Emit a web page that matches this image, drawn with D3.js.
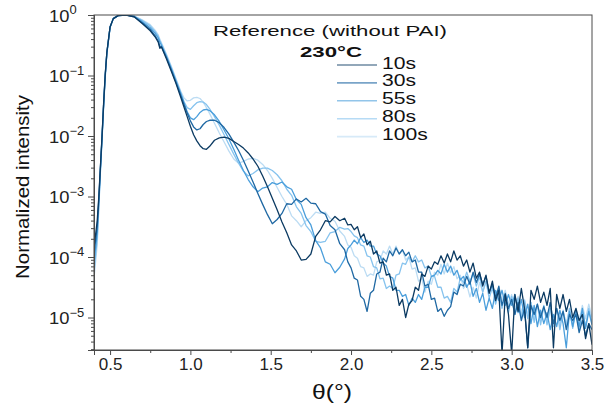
<!DOCTYPE html>
<html>
<head>
<meta charset="utf-8">
<script src="https://cdn.jsdelivr.net/npm/d3@7"></script>
<style>
  html, body { margin: 0; padding: 0; background: #fff; }
  svg { display: block; font-family: "Liberation Sans", Arial, sans-serif; }
</style>
</head>
<body>
<div id="chart"></div>
<script>
// theta grid (degrees), shared by all curves
const theta = [
  0.40,0.42,0.43,0.44,0.45,0.46,0.47,0.48,
  0.50,0.52,0.55,0.60,0.65,0.70,0.75,0.78,
  0.80,0.81,0.82,0.85,0.88,0.91,0.94,
  0.96,0.98,1.00,1.02,1.04,1.06,1.08,1.10,
  1.12,1.15,1.18,1.21,1.24,1.27,1.30,1.33,
  1.36,1.39,1.42,1.45,1.48,1.51,1.54,1.57,
  1.60,1.63,1.66,1.69,1.72,1.75,1.78,1.81,
  1.84,1.87,1.90,1.93,1.96,1.98,
  2.00,2.02,2.04,2.06,2.08,2.10,2.12,2.14,2.16,2.18,
  2.20,2.22,2.24,2.26,2.28,2.30,2.32,2.34,2.36,2.38,
  2.40,2.42,2.44,2.46,2.48,2.50,2.52,2.54,2.56,2.58,
  2.60,2.62,2.64,2.66,2.68,2.70,2.72,2.74,2.76,2.78,
  2.80,2.82,2.84,2.86,2.88,2.90,2.92,2.94,2.96,2.98,
  3.00,3.02,3.04,3.06,3.08,3.10,3.12,3.14,3.16,3.18,
  3.20,3.22,3.24,3.26,3.28,3.30,3.32,3.34,3.36,3.38,
  3.40,3.42,3.44,3.46,3.48,3.50
];

// log10 of normalized intensity, one array per annealing time
const v10s = [
  -3.85,-3.40,-3.00,-2.50,-2.00,-1.45,-0.98,-0.62,
  -0.20,-0.06,-0.01,0.00,-0.03,-0.14,-0.26,-0.36,
  -0.45,-0.55,-0.53,-0.72,-0.92,-1.13,-1.36,
  -1.52,-1.68,-1.84,-1.98,-2.08,-2.16,-2.21,-2.22,
  -2.17,-2.07,-2.03,-2.02,-2.04,-2.09,-2.14,-2.20,
  -2.28,-2.38,-2.50,-2.66,-2.84,-3.03,-3.22,-3.42,
  -3.60,-3.80,-3.90,-4.05,-4.04,-3.95,-3.66,-3.55,
  -3.40,-3.42,-3.33,-3.40,-3.36,-3.47,
  -3.46,-3.55,-3.50,-3.68,-3.62,-3.80,-3.74,-3.95,-3.90,-4.10,
  -4.08,-4.30,-4.28,-4.55,-4.50,-4.80,-4.70,-5.00,-4.78,-4.72,
  -4.50,-4.55,-4.28,-4.32,-4.15,-4.20,-4.08,-4.12,-3.98,-4.10,
  -3.95,-4.08,-3.90,-4.05,-3.98,-4.15,-4.05,-4.25,-4.10,-4.35,
  -4.25,-4.48,-4.30,-4.60,-4.40,-4.72,-4.55,-5.60,-4.62,-4.95,
  -5.60,-4.62,-4.90,-4.52,-4.85,-5.50,-4.55,-4.70,-4.48,-4.75,
  -4.58,-4.80,-4.52,-5.50,-4.62,-4.85,-4.62,-4.90,-4.70,-5.00,
  -4.85,-5.05,-4.95,-5.35,-5.10,-5.45
];
const v30s = [
  -3.95,-3.50,-3.05,-2.52,-2.02,-1.47,-0.98,-0.62,
  -0.20,-0.06,-0.01,0.00,-0.03,-0.13,-0.24,-0.34,
  -0.43,-0.52,-0.52,-0.70,-0.90,-1.11,-1.33,
  -1.48,-1.62,-1.75,-1.85,-1.90,-1.88,-1.81,-1.76,
  -1.74,-1.74,-1.78,-1.86,-1.97,-2.10,-2.24,-2.40,
  -2.58,-2.76,-2.95,-3.13,-3.30,-3.45,-3.38,-3.28,
  -3.12,-3.13,-3.04,-3.09,-3.03,-3.11,-3.12,-3.25,
  -3.29,-3.48,-3.55,-3.78,-3.88,-4.08,
  -4.18,-4.35,-4.38,-4.65,-4.70,-4.90,-4.60,-4.55,-4.28,-4.25,
  -4.02,-4.08,-3.90,-3.98,-3.85,-3.95,-3.88,-3.98,-3.92,-4.08,
  -4.05,-4.25,-4.25,-4.48,-4.45,-4.70,-4.68,-4.90,-4.85,-4.98,
  -4.88,-4.82,-4.58,-4.62,-4.45,-4.48,-4.32,-4.45,-4.25,-4.42,
  -4.28,-4.45,-4.32,-4.58,-4.45,-4.68,-4.48,-4.80,-4.60,-4.85,
  -4.70,-4.95,-4.75,-5.05,-4.85,-5.50,-4.80,-4.95,-4.78,-5.00,
  -4.82,-5.00,-4.75,-5.10,-4.85,-5.05,-4.90,-5.20,-4.95,-5.05,
  -4.95,-5.25,-5.05,-5.30,-5.10,-5.20
];
const v55s = [
  -4.10,-3.60,-3.10,-2.55,-2.03,-1.48,-1.00,-0.63,
  -0.20,-0.06,-0.01,0.00,-0.02,-0.11,-0.21,-0.30,
  -0.38,-0.45,-0.50,-0.68,-0.88,-1.09,-1.30,
  -1.45,-1.60,-1.70,-1.73,-1.68,-1.61,-1.57,-1.56,
  -1.58,-1.65,-1.76,-1.90,-2.05,-2.22,-2.40,-2.57,
  -2.72,-2.84,-2.92,-2.86,-2.84,-2.77,-2.80,-2.76,
  -2.84,-2.88,-3.05,-3.13,-3.35,-3.47,-3.73,-3.85,
  -4.08,-4.12,-4.26,-4.17,-4.03,-3.86,
  -3.80,-3.72,-3.78,-3.68,-3.76,-3.72,-3.82,-3.82,-3.95,-3.98,
  -4.10,-4.15,-4.32,-4.35,-4.55,-4.55,-4.65,-4.62,-4.80,-4.68,
  -4.75,-4.62,-4.70,-4.50,-4.50,-4.32,-4.30,-4.22,-4.28,-4.12,
  -4.25,-4.15,-4.30,-4.22,-4.38,-4.32,-4.50,-4.40,-4.65,-4.52,
  -4.75,-4.60,-4.88,-4.68,-4.85,-4.55,-4.72,-4.55,-4.80,-4.62,
  -4.80,-4.62,-4.92,-4.70,-5.00,-4.78,-5.10,-4.80,-5.15,-4.88,
  -5.10,-4.92,-5.20,-4.95,-5.15,-4.88,-5.10,-5.50,-4.90,-5.15,
  -4.88,-5.15,-4.85,-5.18,-4.90,-5.12
];
const v80s = [
  -4.25,-3.70,-3.15,-2.58,-2.05,-1.50,-1.02,-0.64,
  -0.21,-0.06,-0.01,0.00,-0.02,-0.09,-0.18,-0.27,
  -0.35,-0.42,-0.48,-0.66,-0.86,-1.07,-1.28,
  -1.43,-1.53,-1.56,-1.50,-1.45,-1.43,-1.44,-1.48,
  -1.55,-1.68,-1.82,-1.98,-2.14,-2.30,-2.45,-2.58,
  -2.66,-2.62,-2.56,-2.53,-2.53,-2.57,-2.64,-2.74,
  -2.88,-2.98,-3.17,-3.28,-3.48,-3.58,-3.74,-3.76,
  -3.74,-3.60,-3.58,-3.51,-3.54,-3.53,
  -3.58,-3.65,-3.68,-3.80,-3.82,-3.98,-4.00,-4.16,-4.18,-4.36,
  -4.35,-4.52,-4.48,-4.52,-4.30,-4.28,-4.10,-4.12,-4.00,-4.08,
  -3.98,-4.08,-4.05,-4.18,-4.15,-4.32,-4.32,-4.50,-4.50,-4.68,
  -4.65,-4.75,-4.52,-4.58,-4.35,-4.42,-4.25,-4.40,-4.28,-4.48,
  -4.32,-4.58,-4.40,-4.68,-4.50,-4.78,-4.58,-4.85,-4.62,-4.92,
  -4.65,-4.95,-4.68,-5.00,-4.72,-5.02,-4.75,-5.08,-4.78,-5.12,
  -4.80,-5.12,-4.85,-5.15,-4.85,-5.20,-4.88,-5.15,-4.85,-5.18,
  -4.90,-5.20,-4.88,-5.15,-4.85,-5.10
];
const v100s = [
  -4.35,-3.80,-3.20,-2.60,-2.07,-1.52,-1.03,-0.65,
  -0.21,-0.06,-0.01,0.00,-0.02,-0.08,-0.16,-0.25,
  -0.33,-0.40,-0.46,-0.64,-0.84,-1.05,-1.26,
  -1.37,-1.42,-1.41,-1.37,-1.36,-1.38,-1.44,-1.53,
  -1.63,-1.79,-1.95,-2.10,-2.25,-2.38,-2.45,-2.42,
  -2.38,-2.37,-2.40,-2.47,-2.57,-2.70,-2.85,-3.00,
  -3.13,-3.32,-3.40,-3.50,-3.40,-3.35,-3.26,-3.28,
  -3.26,-3.36,-3.41,-3.57,-3.66,-3.80,
  -3.84,-3.98,-4.02,-4.16,-4.18,-4.32,-4.28,-4.30,-4.08,-4.06,
  -3.90,-3.95,-3.82,-3.95,-3.82,-3.95,-3.88,-4.05,-4.00,-4.20,
  -4.18,-4.40,-4.35,-4.58,-4.40,-4.45,-4.25,-4.30,-4.12,-4.28,
  -4.10,-4.26,-4.16,-4.36,-4.30,-4.52,-4.45,-4.66,-4.50,-4.68,
  -4.42,-4.58,-4.40,-4.60,-4.45,-4.65,-4.50,-4.72,-4.55,-4.78,
  -4.62,-4.88,-4.65,-4.92,-4.70,-4.95,-4.75,-5.00,-4.78,-5.05,
  -4.82,-5.08,-4.85,-5.10,-4.88,-5.12,-4.90,-5.10,-4.85,-5.08,
  -4.85,-5.05,-4.80,-5.02,-4.78,-5.00
];

const seriesNames = ["10s", "30s", "55s", "80s", "100s"];
const seriesValues = [v10s, v30s, v55s, v80s, v100s];
const seriesColors = ["#0b3a62", "#1f68a3", "#4a9edb", "#86c3ee", "#bcdcf3"];

const xTicks = [0.5, 1.0, 1.5, 2.0, 2.5, 3.0, 3.5];
const xMinorTicks = [0.75, 1.25, 1.75, 2.25, 2.75, 3.25];
const yTicks = [1, 1e-1, 1e-2, 1e-3, 1e-4, 1e-5];
const yExponents = ["0", "\u22121", "\u22122", "\u22123", "\u22124", "\u22125"];

const TITLE = "Reference (without PAI)";
const SUBTITLE = "230°C";
const X_LABEL = "θ(°)";
const Y_LABEL = "Normalized intensity";

const svgWidth = 608;
const svgHeight = 407;
const margin = { top: 15, right: 16, bottom: 57, left: 94 };
const width = svgWidth - margin.left - margin.right;
const height = svgHeight - margin.top - margin.bottom;

const svg = d3.select("#chart")
  .append("svg")
  .attr("width", svgWidth)
  .attr("height", svgHeight);

const chart = svg.append("g")
  .attr("transform", `translate(${margin.left},${margin.top})`);

const scaleX = d3.scaleLinear()
  .domain([0.4, 3.5])
  .range([0, width]);

const scaleY = d3.scaleLog()
  .domain([Math.pow(10, -5.537), 1])
  .range([height, 0]);

// clip for curves
svg.append("defs").append("clipPath")
  .attr("id", "plot-clip")
  .append("rect")
  .attr("width", width)
  .attr("height", height);

// curves (lightest first so darker ones sit on top)
const line = d3.line()
  .x(d => scaleX(d[0]))
  .y(d => scaleY(Math.pow(10, d[1])));

const curves = chart.append("g").attr("clip-path", "url(#plot-clip)");
for (let i = seriesNames.length - 1; i >= 0; i--) {
  const vals = seriesValues[i];
  const pts = theta.slice(0, vals.length).map((t, k) => [t, vals[k]]);
  curves.append("path")
    .datum(pts)
    .attr("fill", "none")
    .attr("stroke", seriesColors[i])
    .attr("stroke-width", 1.3)
    .attr("stroke-linejoin", "round")
    .attr("d", line);
}

// frame
chart.append("rect")
  .attr("width", width)
  .attr("height", height)
  .attr("fill", "none")
  .attr("stroke", "#4a4a4a")
  .attr("stroke-width", 1);

// x axis
const xAxis = chart.append("g")
  .attr("transform", `translate(0,${height})`)
  .call(d3.axisBottom(scaleX).tickValues(xTicks).tickSize(5).tickFormat(d3.format(".1f")));
chart.append("g")
  .attr("transform", `translate(0,${height})`)
  .call(d3.axisBottom(scaleX).tickValues(xMinorTicks).tickSize(3).tickFormat(""));

// y axis: major + minor ticks
chart.append("g")
  .call(d3.axisLeft(scaleY).tickValues(yTicks).tickSize(6).tickFormat(""));
const minor = scaleY.ticks().filter(v => Math.abs(Math.log10(v) - Math.round(Math.log10(v))) > 1e-6);
chart.append("g")
  .call(d3.axisLeft(scaleY).tickValues(minor).tickSize(3).tickFormat(""));

chart.selectAll(".domain").attr("stroke", "#4a4a4a");
chart.selectAll(".tick line").attr("stroke", "#4a4a4a");

xAxis.selectAll("text")
  .attr("font-size", 17)
  .attr("fill", "#222")
  .attr("font-family", "Liberation Sans, Arial, sans-serif");

// y tick labels as 10^n
yTicks.forEach((v, i) => {
  const t = svg.append("text")
    .attr("transform", `translate(49,${margin.top + scaleY(v) + 6.5}) scale(1.08,1)`)
    .attr("font-size", 17)
    .attr("fill", "#222");
  t.append("tspan").text("10");
  t.append("tspan")
    .attr("font-size", 12)
    .attr("dy", -7.5)
    .text(yExponents[i]);
});

// axis labels
svg.append("text")
  .attr("transform", `translate(29,187) rotate(-90)`)
  .attr("text-anchor", "middle")
  .attr("font-size", 19)
  .attr("textLength", 184)
  .attr("lengthAdjust", "spacingAndGlyphs")
  .attr("fill", "#111")
  .text(Y_LABEL);

svg.append("text")
  .attr("x", 312)
  .attr("y", 399)
  .attr("font-size", 20)
  .attr("textLength", 40)
  .attr("lengthAdjust", "spacingAndGlyphs")
  .attr("fill", "#111")
  .text(X_LABEL);

// title block
svg.append("text")
  .attr("x", 213)
  .attr("y", 36)
  .attr("font-size", 15.5)
  .attr("textLength", 234)
  .attr("lengthAdjust", "spacingAndGlyphs")
  .attr("fill", "#111")
  .text(TITLE);

svg.append("text")
  .attr("x", 300)
  .attr("y", 56.5)
  .attr("font-size", 15)
  .attr("font-weight", 700)
  .attr("textLength", 62)
  .attr("lengthAdjust", "spacingAndGlyphs")
  .attr("fill", "#111")
  .text(SUBTITLE);

// legend
const legend = svg.append("g");
seriesNames.forEach((name, i) => {
  const y = 68.5 + i * 17.9;
  legend.append("line")
    .attr("x1", 337).attr("x2", 377)
    .attr("y1", y - 3.5).attr("y2", y - 3.5)
    .attr("stroke", seriesColors[i])
    .attr("stroke-opacity", 0.6)
    .attr("stroke-width", 1.6);
  legend.append("text")
    .attr("transform", `translate(382,${y}) scale(1.32,1)`)
    .attr("font-size", 16)
    .attr("fill", "#111")
    .text(name);
});
</script>
</body>
</html>
